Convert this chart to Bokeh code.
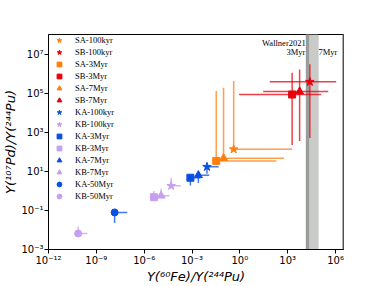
from bokeh.plotting import figure
from bokeh.models import ColumnDataSource, FixedTicker, CustomJSTickFormatter, BoxAnnotation, Span, Label
from bokeh.embed import file_html
from bokeh.resources import INLINE

# ---- data ----
names = ["SA-100kyr", "SB-100kyr", "SA-3Myr", "SB-3Myr", "SA-7Myr", "SB-7Myr",
         "KA-100kyr", "KB-100kyr", "KA-3Myr", "KB-3Myr", "KA-7Myr", "KB-7Myr",
         "KA-50Myr", "KB-50Myr"]
fe_ratio = [0.41, 2.45e4, 0.033, 1.9e3, 0.095, 5.6e3,
            8.7e-3, 4.9e-5, 7.9e-4, 4.1e-6, 2.5e-3, 1.15e-5,
            1.4e-8, 7.2e-11]
pd_ratio = [135, 3.8e5, 34, 8.5e4, 47, 1.2e5,
            17, 1.8, 4.7, 0.47, 6.3, 0.56,
            0.079, 6.6e-3]
fe_low = [0.41, 75, 0.033, 0.9, 0.095, 29,
          8.7e-3, 4.9e-5, 7.9e-4, 4.1e-6, 2.5e-3, 1.15e-5,
          1.4e-8, 7.2e-11]
fe_high = [1.9e3, 1.1e6, 195, 1.26e5, 590, 3.5e5,
           0.047, 2.0e-4, 3.5e-3, 1.1e-5, 0.012, 3.9e-5,
           8.7e-8, 2.75e-10]
pd_low = [135, 500, 34, 224, 47, 355,
          7.4, 1.8, 1.9, 0.47, 2.5, 0.56,
          0.023, 6.6e-3]
pd_high = [4.2e5, 3.0e6, 1.3e5, 1.1e6, 1.9e5, 1.6e6,
           17, 4.6, 4.7, 0.97, 6.3, 1.3,
           0.079, 0.015]
markers = ["star", "star", "square", "square", "triangle", "triangle",
           "star", "star", "square", "square", "triangle", "triangle",
           "circle", "circle"]
colors = ["#ff7f0e", "#e8000b", "#ff7f0e", "#e8000b", "#ff7f0e", "#e8000b",
          "#0a4fe0", "#c79fef", "#0a4fe0", "#c79fef", "#0a4fe0", "#c79fef",
          "#0a4fe0", "#c79fef"]
sizes = [9, 9, 7, 7, 8, 8, 9, 9, 7, 7, 8, 8, 7, 7]

x_ticks = [1e-12, 1e-9, 1e-6, 1e-3, 1e0, 1e3, 1e6]
y_ticks = [1e-3, 1e-1, 1e1, 1e3, 1e5, 1e7]
x_limits = (1e-12, 10 ** 6.5)
y_limits = (1e-3, 1e8)

wallner_band = (1.4e4, 8.3e4)
wallner_edge = (1.4e4, 2.2e4)
right_marker = 3.0e6

# ---- figure ----
p = figure(width=365, height=286, x_axis_type="log", y_axis_type="log",
           x_range=x_limits, y_range=y_limits,
           output_backend="svg", toolbar_location=None,
           min_border_left=47, min_border_right=22, min_border_top=34, min_border_bottom=0)
p.grid.visible = False
p.outline_line_color = "black"
p.outline_line_width = 1
p.background_fill_color = "white"

fmt = CustomJSTickFormatter(code="""
const sup = {"-":"⁻","0":"⁰","1":"¹","2":"²","3":"³","4":"⁴","5":"⁵","6":"⁶","7":"⁷","8":"⁸","9":"⁹"};
const e = Math.round(Math.log10(tick));
return "10" + String(e).split("").map(c => sup[c]).join("");
""")
p.xaxis.ticker = FixedTicker(ticks=x_ticks, minor_ticks=[])
p.yaxis.ticker = FixedTicker(ticks=y_ticks, minor_ticks=[])
for ax in (p.xaxis, p.yaxis):
    ax.formatter = fmt
    ax.major_tick_out = 4
    ax.major_tick_in = 0
    ax.minor_tick_out = 0
    ax.minor_tick_in = 0
    ax.major_label_text_font = "DejaVu Sans"
    ax.major_label_text_font_size = "10px"
    ax.major_label_text_color = "black"
    ax.axis_line_color = "black"
    ax.major_tick_line_color = "black"
    ax.major_label_standoff = 1
    ax.axis_label_standoff = 0
    ax.axis_label_text_font = "DejaVu Sans"
    ax.axis_label_text_font_style = "italic"
    ax.axis_label_text_font_size = "13px"
    ax.axis_label_text_color = "black"
p.xaxis.axis_label = "Y(⁶⁰Fe)/Y(²⁴⁴Pu)"
p.yaxis.axis_label = "Y(¹⁰⁷Pd)/Y(²⁴⁴Pu)"

# Wallner 2021 band
p.add_layout(BoxAnnotation(left=wallner_band[0], right=wallner_band[1],
                           fill_color="#c9cbc9", fill_alpha=1, line_color="#a8a8a8",
                           line_width=1, level="underlay"))
p.add_layout(BoxAnnotation(left=wallner_edge[0], right=wallner_edge[1],
                           fill_color="#9c9c9c", fill_alpha=1, line_color=None,
                           level="underlay"))
p.add_layout(Span(location=right_marker, dimension="height",
                  line_color="#a0a0a0", line_width=2, level="underlay"))

for txt, xx, yy, align in [("Wallner2021", 1.35e4, 10 ** 7.58, "right"),
                           ("3Myr", 1.3e4, 10 ** 7.08, "right"),
                           ("7Myr", 8.6e4, 10 ** 7.08, "left")]:
    p.add_layout(Label(x=xx, y=yy, text=txt, text_align=align, text_baseline="middle",
                       text_font="Liberation Serif", text_font_size="8.5px",
                       text_color="black"))

# ---- series ----
for i, nm in enumerate(names):
    src = ColumnDataSource(dict(x=[fe_ratio[i]], y=[pd_ratio[i]],
                                xl=[fe_low[i]], xh=[fe_high[i]],
                                yl=[pd_low[i]], yh=[pd_high[i]]))
    p.segment(x0="xl", y0="y", x1="xh", y1="y", source=src,
              line_color=colors[i], line_width=1.5, line_alpha=0.75)
    p.segment(x0="x", y0="yl", x1="x", y1="yh", source=src,
              line_color=colors[i], line_width=1.5, line_alpha=0.75)
    p.scatter(x="x", y="y", source=src, marker=markers[i], size=sizes[i],
              fill_color=colors[i], line_color=colors[i], legend_label=nm)

lg = p.legend[0]
lg.location = "top_left"
lg.border_line_color = None
lg.background_fill_alpha = 0
lg.margin = 0
lg.padding = 4
lg.spacing = 0
lg.glyph_height = 12
lg.glyph_width = 22
lg.label_height = 12
lg.label_standoff = 5
lg.label_text_font = "Liberation Serif"
lg.label_text_font_size = "8.5px"
lg.label_text_color = "black"
lg.label_text_baseline = "middle"

open("out.html", "w").write(file_html(p, INLINE))
